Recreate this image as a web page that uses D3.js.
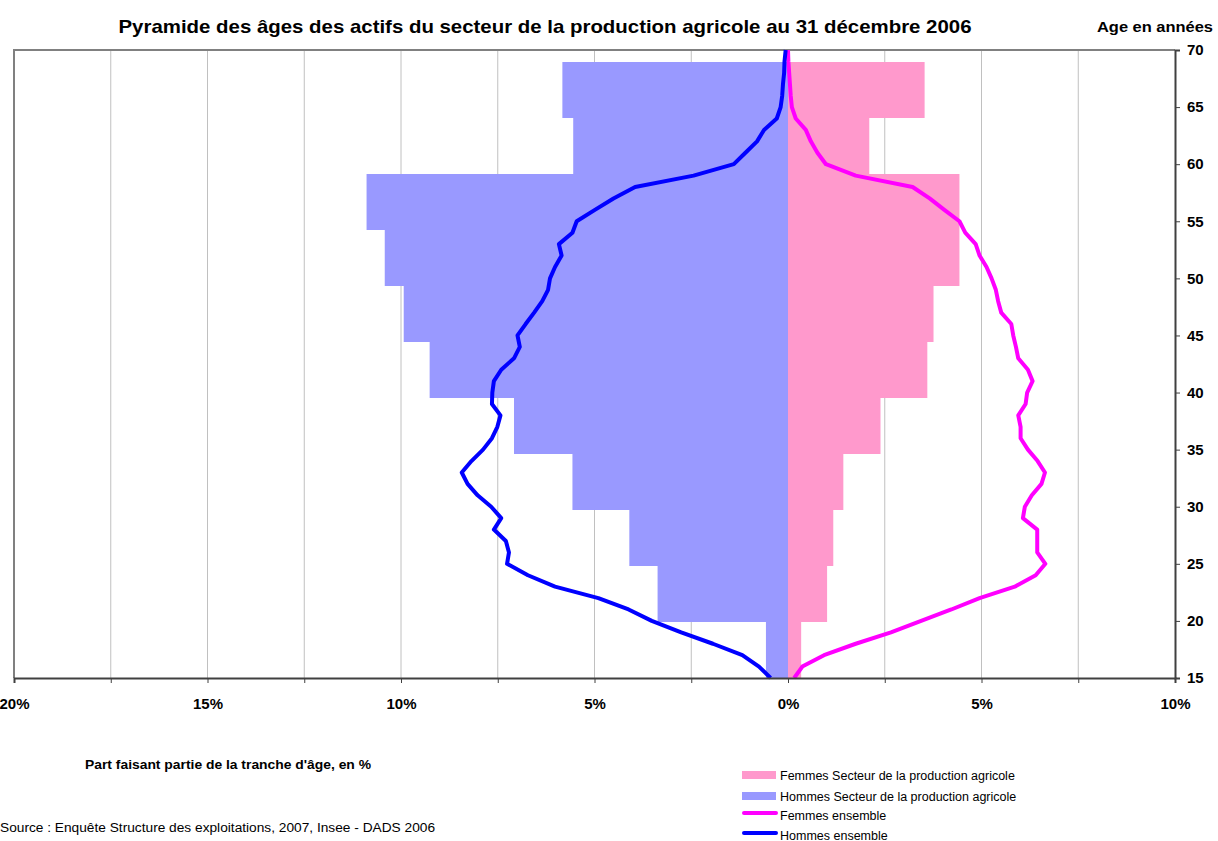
<!DOCTYPE html>
<html>
<head>
<meta charset="utf-8">
<script src="https://cdn.jsdelivr.net/npm/d3@7"></script>
<style>
  body { margin: 0; background: #fff; }
  svg text { font-family: "Liberation Sans", Arial, sans-serif; }
</style>
</head>
<body>
<script>
// age groups for the bars (bottom to top)
var groups = ['15-19', '20-24', '25-29', '30-34', '35-39', '40-44', '45-49', '50-54', '55-59', '60-64', '65-69'];
var hommesSecteur = [0.57, 3.37, 4.10, 5.57, 7.08, 9.26, 9.93, 10.42, 10.89, 5.55, 5.83];
var femmesSecteur = [0.34, 1.01, 1.17, 1.43, 2.39, 3.60, 3.76, 4.43, 4.43, 2.10, 3.53];

// single ages for the "ensemble" lines
var ages = d3.range(15, 71);
var hommesEnsemble = [0.45, 0.75, 1.18, 1.94, 2.76, 3.52, 4.12, 4.90, 6.02, 6.72,
                      7.26, 7.21, 7.29, 7.60, 7.41, 7.67, 8.02, 8.28, 8.43, 8.18,
                      7.88, 7.65, 7.51, 7.43, 7.65, 7.64, 7.60, 7.41, 7.08, 6.93,
                      6.99, 6.78, 6.56, 6.35, 6.20, 6.15, 6.02, 5.85, 5.92, 5.57,
                      5.46, 4.99, 4.51, 3.95, 2.44, 1.40, 1.10, 0.80, 0.62, 0.29,
                      0.19, 0.15, 0.13, 0.10, 0.09, 0.06];
var femmesEnsemble = [0.16, 0.37, 0.93, 1.75, 2.66, 3.44, 4.22, 4.95, 5.86, 6.40,
                      6.65, 6.44, 6.44, 6.44, 6.07, 6.12, 6.30, 6.55, 6.64, 6.45,
                      6.20, 6.01, 6.01, 5.95, 6.14, 6.18, 6.32, 6.20, 5.95, 5.89,
                      5.82, 5.77, 5.51, 5.43, 5.37, 5.26, 5.13, 4.95, 4.85, 4.58,
                      4.43, 4.04, 3.66, 3.22, 1.75, 0.98, 0.76, 0.59, 0.46, 0.20,
                      0.10, 0.07, 0.05, 0.03, 0.01, 0.00];

var xTicks = d3.range(-20, 10.1, 2.5);
var ageTicks = d3.range(15, 71, 5);

var legendItems = [
    { label: 'Femmes Secteur de la production agricole', color: '#ff99cc', type: 'rect' },
    { label: 'Hommes Secteur de la production agricole', color: '#9999ff', type: 'rect' },
    { label: 'Femmes ensemble', color: '#ff00ff', type: 'line' },
    { label: 'Hommes ensemble', color: '#0000ff', type: 'line' }
];

var width = 1218, height = 841;
var plotLeft = 14, plotRight = 1175, plotTop = 50, plotBottom = 678;

var svg = d3.select('body').append('svg')
    .attr('width', width)
    .attr('height', height);

var x = d3.scaleLinear().domain([-20, 10]).range([plotLeft, plotRight]);
var y = d3.scaleLinear().domain([15, 70]).range([plotBottom, plotTop]);

// bars sit on a category axis that stops a little below the top
var band = d3.scaleBand().domain(groups).range([plotBottom, plotTop + 12]).padding(0);

// title
svg.append('text')
    .attr('x', 545).attr('y', 33)
    .attr('text-anchor', 'middle')
    .attr('font-size', 19).attr('font-weight', 'bold')
    .attr('textLength', 853).attr('lengthAdjust', 'spacingAndGlyphs')
    .text('Pyramide des âges des actifs du secteur de la production agricole au 31 décembre 2006');

svg.append('text')
    .attr('x', 1155).attr('y', 32)
    .attr('text-anchor', 'middle')
    .attr('font-size', 15).attr('font-weight', 'bold')
    .attr('textLength', 116).attr('lengthAdjust', 'spacingAndGlyphs')
    .text('Age en années');

// gridlines
svg.append('g').selectAll('line')
    .data(xTicks.filter(function(d){ return d > -20 && d < 10; }))
    .enter().append('line')
    .attr('x1', function(d){ return x(d); })
    .attr('x2', function(d){ return x(d); })
    .attr('y1', plotTop).attr('y2', plotBottom)
    .attr('stroke', '#c0c0c0').attr('stroke-width', 1);

// bars (scaleBand with a reversed range gives the lower edge of each band)
svg.append('g').selectAll('rect')
    .data(hommesSecteur)
    .enter().append('rect')
    .attr('x', function(d){ return x(-d); })
    .attr('width', function(d){ return x(0) - x(-d); })
    .attr('y', function(d, i){ return band(groups[i]); })
    .attr('height', band.bandwidth())
    .attr('fill', '#9999ff');

svg.append('g').selectAll('rect')
    .data(femmesSecteur)
    .enter().append('rect')
    .attr('x', x(0))
    .attr('width', function(d){ return x(d) - x(0); })
    .attr('y', function(d, i){ return band(groups[i]); })
    .attr('height', band.bandwidth())
    .attr('fill', '#ff99cc');

// plot border (top and left)
svg.append('path')
    .attr('d', 'M' + plotLeft + ',' + plotBottom + 'V' + plotTop + 'H' + plotRight)
    .attr('fill', 'none').attr('stroke', '#808080').attr('stroke-width', 2);

// lines
var femLine = d3.line()
    .x(function(d){ return x(d); })
    .y(function(d, i){ return y(ages[i]); });
var homLine = d3.line()
    .x(function(d){ return x(-d); })
    .y(function(d, i){ return y(ages[i]); });

svg.append('path')
    .datum(femmesEnsemble)
    .attr('d', femLine)
    .attr('fill', 'none').attr('stroke', '#ff00ff')
    .attr('stroke-width', 4).attr('stroke-linejoin', 'round');

svg.append('path')
    .datum(hommesEnsemble)
    .attr('d', homLine)
    .attr('fill', 'none').attr('stroke', '#0000ff')
    .attr('stroke-width', 4).attr('stroke-linejoin', 'round');

// bottom axis
var xAxis = d3.axisBottom(x)
    .tickValues(xTicks)
    .tickSize(5)
    .tickFormat(function(d){ return d % 5 === 0 ? Math.abs(d) + '%' : ''; });

var gx = svg.append('g')
    .attr('transform', 'translate(0,' + plotBottom + ')')
    .call(xAxis);
gx.select('.domain').attr('stroke', '#404040').attr('stroke-width', 2);
gx.selectAll('.tick line').attr('stroke', '#404040');
gx.selectAll('.tick text')
    .attr('y', 20)
    .attr('font-size', 15).attr('font-weight', 'bold')
    .attr('fill', '#000');

// right axis
var yAxis = d3.axisRight(y).tickValues(ageTicks).tickSize(5);
var gy = svg.append('g')
    .attr('transform', 'translate(' + plotRight + ',0)')
    .call(yAxis);
gy.select('.domain').attr('stroke', '#404040').attr('stroke-width', 2);
gy.selectAll('.tick line').attr('stroke', '#404040');
gy.selectAll('.tick text')
    .attr('x', 12)
    .attr('font-size', 15).attr('font-weight', 'bold')
    .attr('fill', '#000');

// axis caption and source
svg.append('text')
    .attr('x', 228).attr('y', 769)
    .attr('text-anchor', 'middle')
    .attr('font-size', 12).attr('font-weight', 'bold')
    .attr('textLength', 286).attr('lengthAdjust', 'spacingAndGlyphs')
    .text("Part faisant partie de la tranche d'âge, en %");

svg.append('text')
    .attr('x', 0).attr('y', 832)
    .attr('font-size', 12.5)
    .attr('textLength', 435).attr('lengthAdjust', 'spacingAndGlyphs')
    .text('Source : Enquête Structure des exploitations, 2007,  Insee - DADS 2006');

// legend
var legend = svg.append('g').selectAll('g')
    .data(legendItems)
    .enter().append('g')
    .attr('transform', function(d, i){ return 'translate(742,' + [775, 796, 815, 835][i] + ')'; });

legend.filter(function(d){ return d.type === 'rect'; })
    .append('rect')
    .attr('x', 0).attr('y', -4).attr('width', 34).attr('height', 8)
    .attr('fill', function(d){ return d.color; });

legend.filter(function(d){ return d.type === 'line'; })
    .append('line')
    .attr('x1', 2).attr('x2', 34).attr('y1', -2).attr('y2', -2)
    .attr('stroke', function(d){ return d.color; })
    .attr('stroke-width', 4).attr('stroke-linecap', 'round');

legend.append('text')
    .attr('x', 38).attr('y', 4.5)
    .attr('font-size', 12.5)
    .text(function(d){ return d.label; });
</script>
</body>
</html>
